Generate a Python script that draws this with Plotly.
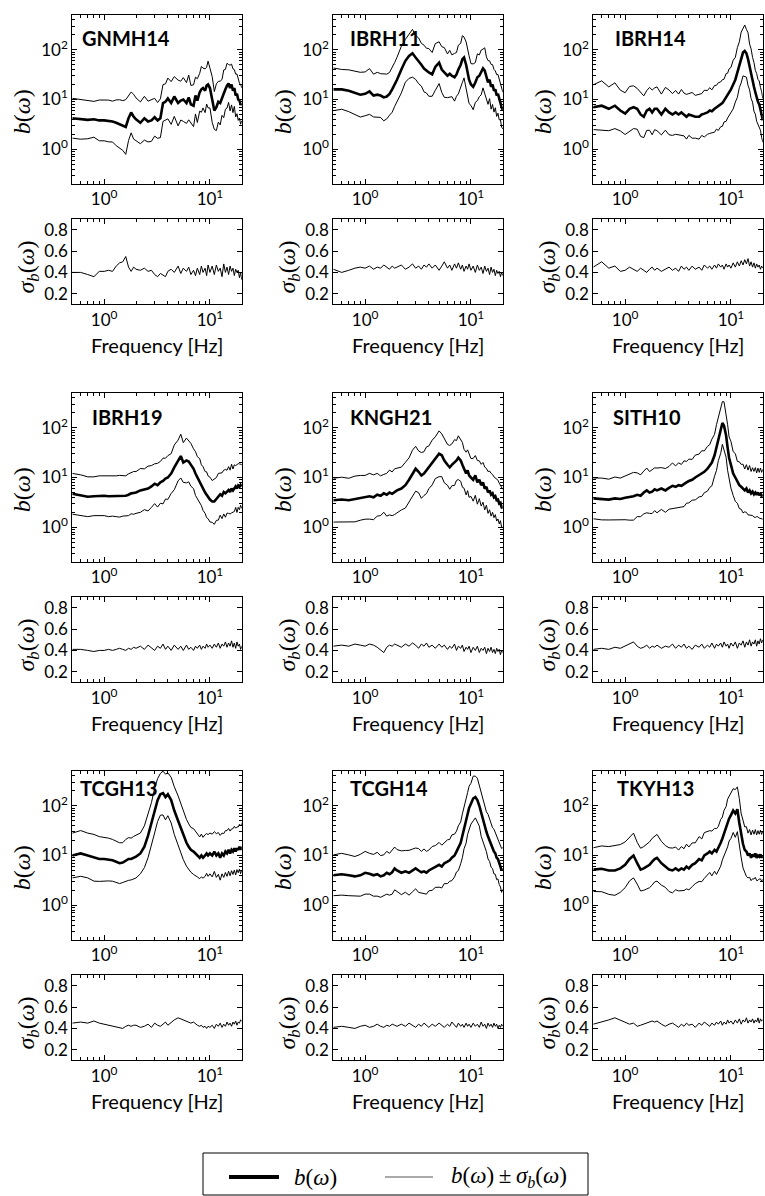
import plotly.graph_objects as go

# Frequency samples [Hz] shared by all stations
FREQ = [0.5, 0.6, 0.7, 0.8, 0.9, 1.0, 1.1, 1.2, 1.3, 1.4, 1.5, 1.6, 1.7, 1.8, 1.9, 2.0,
        2.2, 2.4, 2.6, 2.8, 3.0, 3.2, 3.4, 3.6, 3.8, 4.0, 4.3, 4.6, 5.0,
        5.3, 5.6, 6.0, 6.3, 6.6, 7.0, 7.3, 7.6, 8.0, 8.3, 8.6, 9.0, 9.3, 9.6, 10.0,
        10.5, 11.0, 11.5, 12.0, 12.5, 13.0, 13.5, 14.0, 14.5, 15.0, 15.5, 16.0, 16.5,
        17.0, 17.5, 18.0, 18.5, 19.0, 19.5, 20.0]

STATIONS = ["GNMH14", "IBRH11", "IBRH14", "IBRH19", "KNGH21", "SITH10",
            "TCGH13", "TCGH14", "TKYH13"]

# median site amplification b(w)
B_GNMH14 = [4.2, 4.0, 3.9, 4.0, 3.8, 3.8, 3.7, 3.6, 3.4, 3.2, 3.0, 2.8, 4.2, 5.5, 4.5, 4.0,
            3.4, 4.2, 3.6, 3.8, 4.4, 3.8, 4.2, 8.5, 9.0, 10.5, 8.5, 11.5, 8.5,
            9.5, 10.0, 8.5, 11.0, 8.0, 7.5, 12.0, 9.5, 14.0, 16.0, 17.0, 15.0, 19.0, 20.0, 17.0,
            10.0, 6.0, 7.0, 9.0, 8.5, 11.0, 13.0, 16.0, 19.0, 21.0, 17.0, 20.0, 15.0,
            17.0, 12.0, 13.0, 10.0, 9.5, 8.0, 8.0]
B_IBRH11 = [16, 16, 15, 13.5, 12.5, 13, 14.5, 12, 12.5, 12, 11, 11.5, 13, 16, 20, 25,
            40, 60, 75, 85, 70, 60, 50, 42, 38, 35, 32, 45, 55,
            40, 35, 30, 33, 30, 28, 32, 40, 50, 65, 70, 50, 35, 25, 20,
            18, 22, 28, 30, 35, 42, 38, 28, 22, 25, 18, 20, 15,
            16, 12, 13, 10, 9, 7, 6]
B_IBRH14 = [7, 7.5, 6.5, 7.5, 6, 5.2, 6.5, 7, 6.5, 5, 4.5, 6, 6.5, 5.5, 6.5, 6.5,
            5, 6.5, 5.5, 5, 5.5, 5, 5.5, 5, 4.5, 5, 4.8, 4.5, 4.5,
            5, 5.2, 5.5, 6, 5.8, 6.5, 7, 7.2, 8, 8.5, 9.5, 11, 12, 14, 16,
            20, 25, 35, 50, 70, 88, 95, 85, 65, 45, 33, 25, 18,
            14, 11, 9, 8, 6.5, 5, 3.8]
B_IBRH19 = [4.7, 4.4, 4.1, 4.2, 4.3, 4.3, 4.2, 4.2, 4.2, 4.2, 4.3, 4.3, 4.5, 4.8, 4.9, 5.0,
            5.5, 5.8, 6.0, 6.6, 7.5, 7.0, 8.0, 8.5, 9.5, 10, 12, 16, 22,
            27, 20, 22, 21, 18, 15, 12, 10, 8.5, 7, 6, 5, 4.5, 4.0, 3.6,
            3.3, 3.3, 3.7, 4.1, 4.6, 4.3, 5.1, 4.8, 5.2, 5.6, 5.1, 6.0, 5.5,
            6.1, 6.6, 6.0, 6.9, 6.5, 7.1, 6.6]
B_KNGH21 = [3.5, 3.6, 3.5, 3.7, 3.9, 4.0, 4.2, 4.0, 4.5, 4.3, 4.8, 4.5, 5.0, 4.7, 5.2, 5.5,
            6, 7, 9, 12, 15, 13, 11, 12, 14, 16, 20, 25, 30,
            28, 22, 18, 16, 18, 20, 22, 25, 22, 18, 15, 12, 14, 11, 10,
            9, 11, 8, 9, 7, 8, 6, 6.5, 5, 5.5, 4.5, 4.8, 4,
            4.2, 3.5, 3.6, 3.0, 3.1, 2.5, 2.4]
B_SITH10 = [3.8, 3.7, 3.6, 3.8, 3.7, 3.9, 4.0, 4.2, 4.5, 4.3, 5.0, 5.5, 5.0, 5.2, 5.8, 5.5,
            6.0, 5.5, 6.2, 6.8, 6.5, 7.0, 6.8, 7.5, 8.0, 8.5, 9, 10, 11,
            12, 13, 15, 17, 20, 28, 40, 60, 90, 125, 110, 70, 40, 25, 18,
            12, 10, 8, 7, 6.5, 6, 5.5, 6, 5, 5.5, 4.8, 5.2, 4.6,
            5.0, 4.5, 5.0, 4.4, 4.8, 4.3, 4.6]
B_TCGH13 = [10, 11, 10, 9, 8.5, 8.5, 8.3, 8.0, 7.5, 7.0, 7.2, 8.0, 8.5, 8.5, 9.0, 9.5,
            11, 15, 25, 45, 80, 130, 170, 180, 150, 170, 130, 80, 50,
            35, 25, 18, 15, 13, 12, 11, 10, 9, 10, 9, 10, 11, 10, 11,
            10, 12, 10, 11, 9, 11, 10, 12, 11, 13, 11, 13, 12,
            14, 12, 14, 13, 15, 13, 15]
B_TCGH14 = [4.0, 4.2, 4.0, 3.8, 4.0, 4.5, 4.3, 4.0, 4.2, 3.8, 4.0, 4.5, 4.2, 4.6, 5.5, 5.0,
            4.5, 4.8, 4.5, 5.0, 5.5, 5.0, 4.6, 4.8, 4.5, 5.0, 5.5, 6.0, 6.5,
            6.0, 7.0, 7.5, 8.0, 9.0, 10, 12, 14, 18, 25, 35, 50, 70, 90, 110,
            140, 150, 130, 100, 70, 50, 38, 30, 24, 20, 16, 14, 12,
            11, 9, 8.5, 7, 6, 5, 5.5]
B_TKYH13 = [5.2, 5.4, 5.0, 5.0, 5.5, 6.5, 8.5, 10, 7, 5.2, 5.5, 6, 6.5, 7.5, 8.5, 9,
            7, 6, 5.2, 5, 5.5, 5, 5.5, 5.2, 6, 5.5, 6.5, 7, 8.5,
            8, 10, 11, 12, 11, 13, 12, 14, 18, 22, 28, 35, 45, 55, 65,
            80, 70, 85, 45, 25, 17, 13, 12, 10, 11, 9, 10.5, 9.5,
            11, 9, 10, 9.5, 10.5, 9, 10]

# standard deviation sigma_b(w) (log10 units)
SIG_GNMH14 = [0.40, 0.40, 0.38, 0.36, 0.41, 0.41, 0.42, 0.41, 0.46, 0.49, 0.50, 0.55, 0.45, 0.41, 0.45, 0.43,
              0.42, 0.44, 0.41, 0.42, 0.38, 0.36, 0.39, 0.37, 0.36, 0.41, 0.43, 0.40, 0.46,
              0.39, 0.44, 0.41, 0.45, 0.38, 0.42, 0.37, 0.44, 0.38, 0.46, 0.40, 0.44, 0.37, 0.47, 0.40,
              0.46, 0.38, 0.47, 0.41, 0.44, 0.36, 0.48, 0.40, 0.45, 0.38, 0.46, 0.41, 0.44,
              0.37, 0.43, 0.40, 0.42, 0.35, 0.40, 0.33]
SIG_IBRH11 = [0.43, 0.40, 0.42, 0.44, 0.45, 0.44, 0.46, 0.43, 0.45, 0.44, 0.47, 0.45, 0.43, 0.46, 0.44, 0.45,
              0.47, 0.43, 0.45, 0.48, 0.44, 0.46, 0.43, 0.47, 0.45, 0.48, 0.44, 0.47, 0.42,
              0.46, 0.50, 0.44, 0.47, 0.42, 0.48, 0.44, 0.49, 0.43, 0.47, 0.41, 0.46, 0.43, 0.48, 0.42,
              0.46, 0.40, 0.47, 0.42, 0.45, 0.39, 0.46, 0.41, 0.44, 0.38, 0.45, 0.40, 0.43,
              0.37, 0.42, 0.39, 0.41, 0.36, 0.40, 0.37]
SIG_IBRH14 = [0.45, 0.50, 0.44, 0.46, 0.41, 0.42, 0.45, 0.43, 0.41, 0.44, 0.42, 0.40, 0.43, 0.45, 0.42, 0.44,
              0.41, 0.43, 0.45, 0.42, 0.44, 0.41, 0.46, 0.43, 0.45, 0.42, 0.46, 0.43, 0.45,
              0.42, 0.47, 0.44, 0.46, 0.43, 0.47, 0.44, 0.48, 0.45, 0.47, 0.43, 0.48, 0.45, 0.47, 0.44,
              0.49, 0.45, 0.50, 0.46, 0.51, 0.47, 0.52, 0.48, 0.53, 0.46, 0.50, 0.45, 0.49,
              0.44, 0.48, 0.45, 0.47, 0.43, 0.46, 0.44]
SIG_IBRH19 = [0.41, 0.41, 0.40, 0.39, 0.40, 0.40, 0.41, 0.40, 0.41, 0.42, 0.41, 0.40, 0.42, 0.41, 0.43, 0.42,
              0.44, 0.41, 0.45, 0.42, 0.40, 0.44, 0.42, 0.46, 0.41, 0.44, 0.40, 0.45, 0.41,
              0.44, 0.40, 0.45, 0.41, 0.43, 0.40, 0.44, 0.42, 0.45, 0.41, 0.44, 0.42, 0.46, 0.43, 0.45,
              0.42, 0.46, 0.43, 0.47, 0.42, 0.46, 0.44, 0.48, 0.43, 0.47, 0.44, 0.49, 0.43,
              0.47, 0.42, 0.48, 0.44, 0.46, 0.41, 0.44]
SIG_KNGH21 = [0.44, 0.45, 0.44, 0.46, 0.45, 0.44, 0.46, 0.45, 0.43, 0.40, 0.38, 0.43, 0.45, 0.44, 0.46, 0.45,
              0.43, 0.46, 0.44, 0.47, 0.45, 0.42, 0.46, 0.44, 0.47, 0.43, 0.45, 0.42, 0.46,
              0.43, 0.45, 0.41, 0.44, 0.42, 0.46, 0.40, 0.44, 0.42, 0.45, 0.39, 0.43, 0.41, 0.44, 0.38,
              0.43, 0.40, 0.44, 0.38, 0.42, 0.40, 0.43, 0.37, 0.42, 0.39, 0.43, 0.38, 0.41,
              0.37, 0.42, 0.39, 0.41, 0.36, 0.40, 0.38]
SIG_SITH10 = [0.41, 0.42, 0.41, 0.43, 0.42, 0.44, 0.46, 0.48, 0.44, 0.42, 0.43, 0.45, 0.42, 0.44, 0.43, 0.45,
              0.42, 0.44, 0.43, 0.46, 0.42, 0.45, 0.43, 0.46, 0.42, 0.44, 0.41, 0.45, 0.43,
              0.46, 0.42, 0.45, 0.43, 0.47, 0.42, 0.46, 0.44, 0.47, 0.43, 0.48, 0.44, 0.46, 0.42, 0.47,
              0.44, 0.48, 0.42, 0.47, 0.45, 0.49, 0.43, 0.48, 0.45, 0.50, 0.44, 0.48, 0.46,
              0.50, 0.44, 0.49, 0.46, 0.51, 0.47, 0.50]
SIG_TCGH13 = [0.45, 0.46, 0.45, 0.47, 0.45, 0.44, 0.43, 0.42, 0.41, 0.41, 0.40, 0.42, 0.43, 0.42, 0.43, 0.43,
              0.41, 0.42, 0.44, 0.41, 0.45, 0.43, 0.42, 0.44, 0.46, 0.43, 0.46, 0.48, 0.50,
              0.49, 0.48, 0.47, 0.46, 0.45, 0.46, 0.44, 0.43, 0.42, 0.43, 0.41, 0.42, 0.40, 0.42, 0.41,
              0.43, 0.40, 0.44, 0.42, 0.45, 0.41, 0.44, 0.42, 0.46, 0.43, 0.45, 0.42, 0.46,
              0.44, 0.47, 0.43, 0.46, 0.45, 0.48, 0.47]
SIG_TCGH14 = [0.41, 0.42, 0.41, 0.40, 0.42, 0.43, 0.41, 0.42, 0.44, 0.42, 0.41, 0.43, 0.42, 0.44, 0.43, 0.42,
              0.44, 0.42, 0.45, 0.43, 0.41, 0.44, 0.42, 0.45, 0.43, 0.41, 0.44, 0.42, 0.45,
              0.43, 0.41, 0.44, 0.42, 0.46, 0.43, 0.41, 0.45, 0.42, 0.44, 0.41, 0.45, 0.42, 0.44, 0.41,
              0.45, 0.42, 0.44, 0.41, 0.46, 0.42, 0.44, 0.40, 0.45, 0.42, 0.44, 0.41, 0.45,
              0.42, 0.44, 0.40, 0.43, 0.41, 0.44, 0.42]
SIG_TKYH13 = [0.44, 0.46, 0.48, 0.50, 0.48, 0.46, 0.44, 0.45, 0.42, 0.43, 0.44, 0.45, 0.46, 0.47, 0.46, 0.47,
              0.44, 0.42, 0.44, 0.45, 0.43, 0.41, 0.44, 0.42, 0.45, 0.43, 0.44, 0.41, 0.45,
              0.43, 0.46, 0.44, 0.42, 0.45, 0.43, 0.46, 0.44, 0.47, 0.43, 0.46, 0.44, 0.48, 0.45, 0.47,
              0.44, 0.48, 0.45, 0.49, 0.44, 0.48, 0.46, 0.50, 0.45, 0.48, 0.46, 0.49, 0.45,
              0.48, 0.46, 0.50, 0.45, 0.49, 0.47, 0.48]

B_DATA = [B_GNMH14, B_IBRH11, B_IBRH14, B_IBRH19, B_KNGH21, B_SITH10,
          B_TCGH13, B_TCGH14, B_TKYH13]
SIG_DATA = [SIG_GNMH14, SIG_IBRH11, SIG_IBRH14, SIG_IBRH19, SIG_KNGH21, SIG_SITH10,
            SIG_TCGH13, SIG_TCGH14, SIG_TKYH13]

X_TICKS = [1, 10]
X_TICKTEXT = ["10<sup>0</sup>", "10<sup>1</sup>"]
X_MINOR = [0.5, 0.6, 0.7, 0.8, 0.9, 2, 3, 4, 5, 6, 7, 8, 9, 20]
B_TICKS = [1, 10, 100]
B_TICKTEXT = ["10<sup>0</sup>", "10<sup>1</sup>", "10<sup>2</sup>"]
B_MINOR = [0.2, 0.3, 0.4, 0.5, 0.6, 0.7, 0.8, 0.9, 2, 3, 4, 5, 6, 7, 8, 9,
           20, 30, 40, 50, 60, 70, 80, 90, 200, 300, 400, 500]
S_TICKS = [0.2, 0.4, 0.6, 0.8]

# ---- page geometry (pixels) ----
W, H = 765, 1196
COL_LEFT = [72.3, 333.3, 593.3]
PANEL_W = 169.5
ROW_TOP = [15, 393, 771]
TOP_H = 169
SIG_OFF = 204.3      # top of sigma panel relative to top of b panel
SIG_H = 85
LABEL_DX = [8, 15, 20, 18, 15, 18, 6, 15, 22]
LABEL_DY = [23, 23, 23, 24, 24, 24, 17, 17, 17]

TICK_FONT = dict(family="Lato", size=17, color="black")
SERIF = "Liberation Serif"


def px(x):
    return x / W


def py(y):
    return 1 - y / H


def names(n):
    s = "" if n == 1 else str(n)
    return "xaxis" + s, "yaxis" + s, "x" + s, "y" + s


fig = go.Figure()
layout = {}

for i, name in enumerate(STATIONS):
    r, c = divmod(i, 3)
    left = COL_LEFT[c]
    top = ROW_TOP[r]
    b = B_DATA[i]
    s = SIG_DATA[i]
    upper = [bv * 10 ** sv for bv, sv in zip(b, s)]
    lower = [bv / 10 ** sv for bv, sv in zip(b, s)]

    xa1, ya1, xr1, yr1 = names(2 * i + 1)
    xa2, ya2, xr2, yr2 = names(2 * i + 2)

    common_x = dict(type="log", range=[-0.30103, 1.30103], showgrid=False,
                    zeroline=False, showline=True, linecolor="black", linewidth=1,
                    mirror="ticks", ticks="inside", ticklen=5, tickcolor="black",
                    tickvals=X_TICKS, ticktext=X_TICKTEXT, tickfont=TICK_FONT,
                    minor=dict(ticks="inside", ticklen=3, tickcolor="black",
                               tickvals=X_MINOR, showgrid=False),
                    domain=[px(left), px(left + PANEL_W)])
    layout[xa1] = dict(common_x, anchor=yr1)
    layout[xa2] = dict(common_x, anchor=yr2)
    layout[ya1] = dict(type="log", range=[-0.69897, 2.69897], showgrid=False,
                       zeroline=False, showline=True, linecolor="black", linewidth=1,
                       mirror="ticks", ticks="inside", ticklen=5, tickcolor="black",
                       tickvals=B_TICKS, ticktext=B_TICKTEXT, tickfont=TICK_FONT,
                       minor=dict(ticks="inside", ticklen=3, tickcolor="black",
                                  tickvals=B_MINOR, showgrid=False),
                       anchor=xr1,
                       domain=[py(top + TOP_H), py(top)])
    layout[ya2] = dict(range=[0.1, 0.9], showgrid=False, zeroline=False,
                       showline=True, linecolor="black", linewidth=1,
                       mirror="ticks", ticks="inside", ticklen=5, tickcolor="black",
                       tickvals=S_TICKS, ticktext=[f"{v:.1f}" for v in S_TICKS],
                       tickfont=TICK_FONT, anchor=xr2,
                       domain=[py(top + SIG_OFF + SIG_H), py(top + SIG_OFF)])

    for ys in (upper, lower):
        fig.add_trace(go.Scatter(x=FREQ, y=ys, mode="lines", xaxis=xr1, yaxis=yr1,
                                 line=dict(color="black", width=1), showlegend=False,
                                 hoverinfo="skip"))
    fig.add_trace(go.Scatter(x=FREQ, y=b, mode="lines", xaxis=xr1, yaxis=yr1,
                             line=dict(color="black", width=2.6), showlegend=False))
    fig.add_trace(go.Scatter(x=FREQ, y=s, mode="lines", xaxis=xr2, yaxis=yr2,
                             line=dict(color="black", width=1), showlegend=False))

annotations = []
for i, name in enumerate(STATIONS):
    r, c = divmod(i, 3)
    left = COL_LEFT[c]
    top = ROW_TOP[r]
    annotations.append(dict(text=f"<b>{name}</b>", x=px(left + LABEL_DX[i]),
                            y=py(top + LABEL_DY[i]), xref="paper", yref="paper",
                            xanchor="left", yanchor="middle", showarrow=False,
                            font=dict(family="Lato", size=20, color="black")))
    annotations.append(dict(text="<i>b</i>(<i>ω</i>)", x=px(left - 50), y=py(top + 97),
                            xref="paper", yref="paper", textangle=-90, showarrow=False,
                            xanchor="center", yanchor="middle",
                            font=dict(family=SERIF, size=24, color="black")))
    annotations.append(dict(text="<i>σ</i><sub><i>b</i></sub>(<i>ω</i>)", x=px(left - 44),
                            y=py(top + SIG_OFF + 48), xref="paper", yref="paper",
                            textangle=-90, showarrow=False, xanchor="center",
                            yanchor="middle",
                            font=dict(family=SERIF, size=24, color="black")))
    annotations.append(dict(text="Frequency [Hz]", x=px(left + PANEL_W / 2),
                            y=py(top + SIG_OFF + SIG_H + 41), xref="paper", yref="paper",
                            xanchor="center", yanchor="middle", showarrow=False,
                            font=dict(family="Lato", size=20, color="black")))

# legend box
LEG_X0, LEG_X1, LEG_Y0, LEG_Y1 = 203, 588, 1153, 1195
shapes = [dict(type="rect", xref="paper", yref="paper", x0=px(LEG_X0), x1=px(LEG_X1),
               y0=py(LEG_Y1), y1=py(LEG_Y0), line=dict(color="black", width=1)),
          dict(type="line", xref="paper", yref="paper", x0=px(229), x1=px(279),
               y0=py(1177), y1=py(1177), line=dict(color="black", width=4)),
          dict(type="line", xref="paper", yref="paper", x0=px(385), x1=px(433),
               y0=py(1177), y1=py(1177), line=dict(color="#555", width=1))]
annotations.append(dict(text="<i>b</i>(<i>ω</i>)", x=px(292), y=py(1177), xref="paper",
                        yref="paper", xanchor="left", yanchor="middle", showarrow=False,
                        font=dict(family=SERIF, size=23, color="black")))
annotations.append(dict(text="<i>b</i>(<i>ω</i>)\u2009±\u2009<i>σ</i><sub><i>b</i></sub>(<i>ω</i>)",
                        x=px(449), y=py(1177), xref="paper", yref="paper",
                        xanchor="left", yanchor="middle", showarrow=False,
                        font=dict(family=SERIF, size=23, color="black")))

fig.update_layout(width=W, height=H, margin=dict(l=0, r=0, t=0, b=0),
                  paper_bgcolor="white", plot_bgcolor="white", showlegend=False,
                  annotations=annotations, shapes=shapes, **layout)

fig.write_html("out.html")
